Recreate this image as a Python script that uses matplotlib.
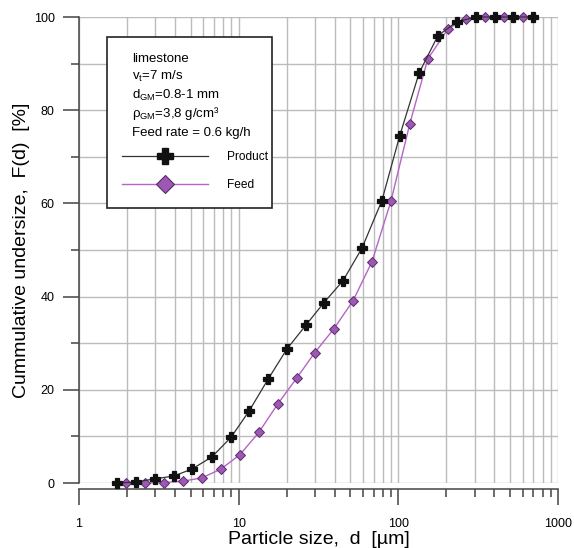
"""
Cumulative particle size distribution: product vs feed (limestone).
"""
import numpy as np
import matplotlib
matplotlib.use('Agg')
import matplotlib.pyplot as plt
from matplotlib.patches import Rectangle
from matplotlib.lines import Line2D
from matplotlib.ticker import LogLocator, FixedLocator, NullFormatter

plt.rcParams['font.family'] = ['Liberation Sans', 'DejaVu Sans']
plt.rcParams['mathtext.fontset'] = 'custom'
plt.rcParams['mathtext.rm'] = 'Liberation Sans'
plt.rcParams['mathtext.it'] = 'Liberation Sans'

# particle size [um] and cumulative undersize [%]
d_product = [1.73, 2.27, 2.99, 3.93, 5.10, 6.80, 8.95, 11.6, 15.3, 20.1, 26.4, 34.2,
             45.0, 59.2, 78.9, 102, 135, 177, 233, 306, 403, 522, 697]
F_product = [0.0, 0.2, 0.9, 1.5, 3.0, 5.6, 9.8, 15.4, 22.3, 28.8, 33.9, 38.7,
             43.4, 50.4, 60.6, 74.5, 88.0, 96.0, 99.0, 100, 100, 100, 100]

d_feed = [1.97, 2.59, 3.41, 4.48, 5.89, 7.75, 10.2, 13.4, 17.6, 23.2, 30.0,
          39.5, 52.0, 68.4, 89.9, 118, 153, 205, 265, 349, 459, 603]
F_feed = [0.0, 0.0, 0.1, 0.4, 1.1, 3.0, 6.1, 10.9, 17.0, 22.6, 28.0,
          33.1, 39.1, 47.5, 60.5, 77.1, 91.0, 97.5, 99.6, 100, 100, 100]

info_lines = ['limestone',
              'v$_\\mathregular{t}$=7 m/s',
              'd$_\\mathregular{GM}$=0.8-1 mm',
              '\u03c1$_\\mathregular{GM}$=3,8 g/cm\u00b3',
              'Feed rate = 0.6 kg/h']

black = '#111111'
feed_line = '#b665c6'
feed_face = '#9c58b2'
feed_edge = '#5c2a6e'

fig = plt.figure(figsize=(5.74, 5.48), dpi=100)
ax = fig.add_axes([79 / 574, 1 - 483 / 548, 479 / 574, 466 / 548])

ax.plot(d_product, F_product, color='#333333', lw=0.9, marker='P', ms=7.8,
        mfc=black, mec=black, mew=0.9, clip_on=False, zorder=4)
ax.plot(d_feed, F_feed, color=feed_line, lw=1.0, marker='D', ms=5.2,
        mfc=feed_face, mec=feed_edge, mew=0.7, clip_on=False, zorder=3)

ax.set_xscale('log')
ax.set_xlim(1, 1000)
ax.set_ylim(0, 100)

ax.xaxis.set_major_locator(FixedLocator([1, 10, 100, 1000]))
ax.xaxis.set_minor_locator(LogLocator(base=10, subs=np.arange(2, 10)))
ax.xaxis.set_minor_formatter(NullFormatter())
ax.set_xticklabels(['1', '10', '100', '1000'])
ax.yaxis.set_major_locator(FixedLocator([0, 20, 40, 60, 80, 100]))
ax.yaxis.set_minor_locator(FixedLocator([10, 30, 50, 70, 90]))

ax.grid(True, which='both', color='#bcbcbc', lw=1.0)
ax.set_axisbelow(True)

for s in ['top', 'right']:
    ax.spines[s].set_visible(False)
ax.spines['bottom'].set_position(('outward', 4.5))
ax.spines['left'].set_color('#444444')
ax.spines['bottom'].set_color('#444444')
ax.spines['left'].set_linewidth(1.1)
ax.spines['bottom'].set_linewidth(1.1)

ax.tick_params(which='major', length=11.5, width=1.1, color='#444444',
               labelsize=9)
ax.tick_params(axis='y', which='major', pad=6)
ax.tick_params(axis='x', which='major', pad=9.5)
ax.tick_params(which='minor', length=5.8, width=1.1, color='#444444')

ax.set_xlabel('Particle size,  d  [\u00b5m]', fontsize=14, labelpad=0.5)
ax.set_ylabel('Cummulative undersize,  F(d)  [%]', fontsize=14, labelpad=3)

# info / legend box
ax.add_patch(Rectangle((0.0585, 0.590), 0.3445, 0.367, transform=ax.transAxes,
                       facecolor='white', edgecolor='#222222', lw=1.2,
                       zorder=5, clip_on=False))
for i, line in enumerate(info_lines):
    ax.text(0.1106, 0.9045 - i * 0.0397, line, transform=ax.transAxes,
            fontsize=9.5, va='baseline', ha='left', zorder=6)

handles = [Line2D([], [], color='#333333', lw=0.9, marker='P', ms=11.5,
                  mfc=black, mec=black),
           Line2D([], [], color=feed_line, lw=1.0, marker='D', ms=9,
                  mfc=feed_face, mec=feed_edge, mew=0.8)]
leg = ax.legend(handles, ['Product', 'Feed'], loc='upper left',
                bbox_to_anchor=(0.0898, 0.712), frameon=False, fontsize=8.6,
                borderpad=0, borderaxespad=0, handlelength=7.2,
                handletextpad=1.6, labelspacing=1.3)
leg.set_zorder(7)

fig.savefig('out.png', dpi=100)
